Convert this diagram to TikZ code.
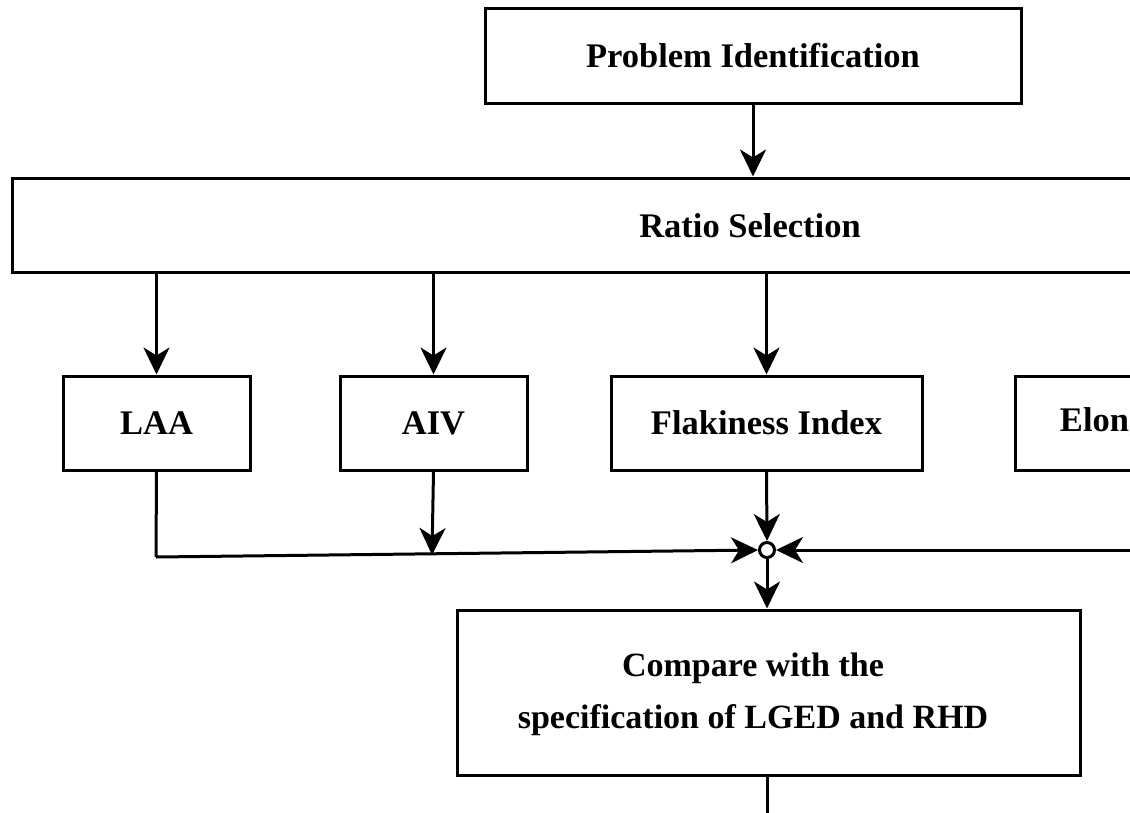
\documentclass[tikz,border=0pt]{standalone}
\usepackage{fontspec}
\setmainfont{Liberation Serif}
\usetikzlibrary{arrows.meta}
\begin{document}
\begin{tikzpicture}[x=1pt,y=-1pt,
  box/.style={draw,line width=3pt,inner sep=0pt,font=\fontsize{34.5}{52}\selectfont\bfseries,align=center},
  arr/.style={line width=3pt,-{Stealth[length=27pt,width=26pt,inset=8pt]}},
  ln/.style={line width=3pt}]
\useasboundingbox (0,0) rectangle (1130,812);
\clip (0,0) rectangle (1130,812);
\node[box,minimum width=536pt,minimum height=95pt] (prob) at (753,55.5) {Problem Identification};
\node[box,minimum width=1478pt,minimum height=94pt] (ratio) at (751,225) {};
\node[font=\fontsize{34.5}{52}\selectfont\bfseries] (ratiot) at (750,226) {Ratio Selection};
\node[box,minimum width=187pt,minimum height=94pt] (laa) at (156.5,423) {LAA};
\node[box,minimum width=187pt,minimum height=94pt] (aiv) at (433.5,423) {AIV};
\node[box,minimum width=311pt,minimum height=94pt] (flak) at (766.5,423) {Flakiness Index};
\node[box,minimum width=344pt,minimum height=94pt] (elon) at (1187,423) {Elongation Index};
\node[draw,circle,line width=3pt,minimum size=15pt,inner sep=0pt] (j) at (767,550) {};
\node[box,minimum width=623pt,minimum height=165pt] (comp) at (768.5,692.5) {};
\node[font=\fontsize{34}{52}\selectfont\bfseries,align=center] (compt) at (753,694) {Compare with the\\specification of LGED and RHD};
\coordinate (e) at (1140,550);
\coordinate (laac) at (156,557);
\coordinate (aivc) at (432,555);
\draw[arr] (prob.south) -- (prob.south |- ratio.north);
\draw[arr] (ratio.south -| laa.north) -- (laa.north);
\draw[arr] (ratio.south -| aiv.north) -- (aiv.north);
\draw[arr] (ratio.south -| flak.north) -- (flak.north);
\draw[ln] (laa.south) -- (laac);
\draw[arr] (laac) -- (j.west);
\draw[arr] (aiv.south) -- (aivc);
\draw[arr] (flak.south) -- (j.north);
\draw[arr] (e) -- (j.east);
\draw[arr] (j.south) -- (j.south |- comp.north);
\draw[ln] (j.south |- comp.south) -- ++(0,50);
\end{tikzpicture}
\end{document}
